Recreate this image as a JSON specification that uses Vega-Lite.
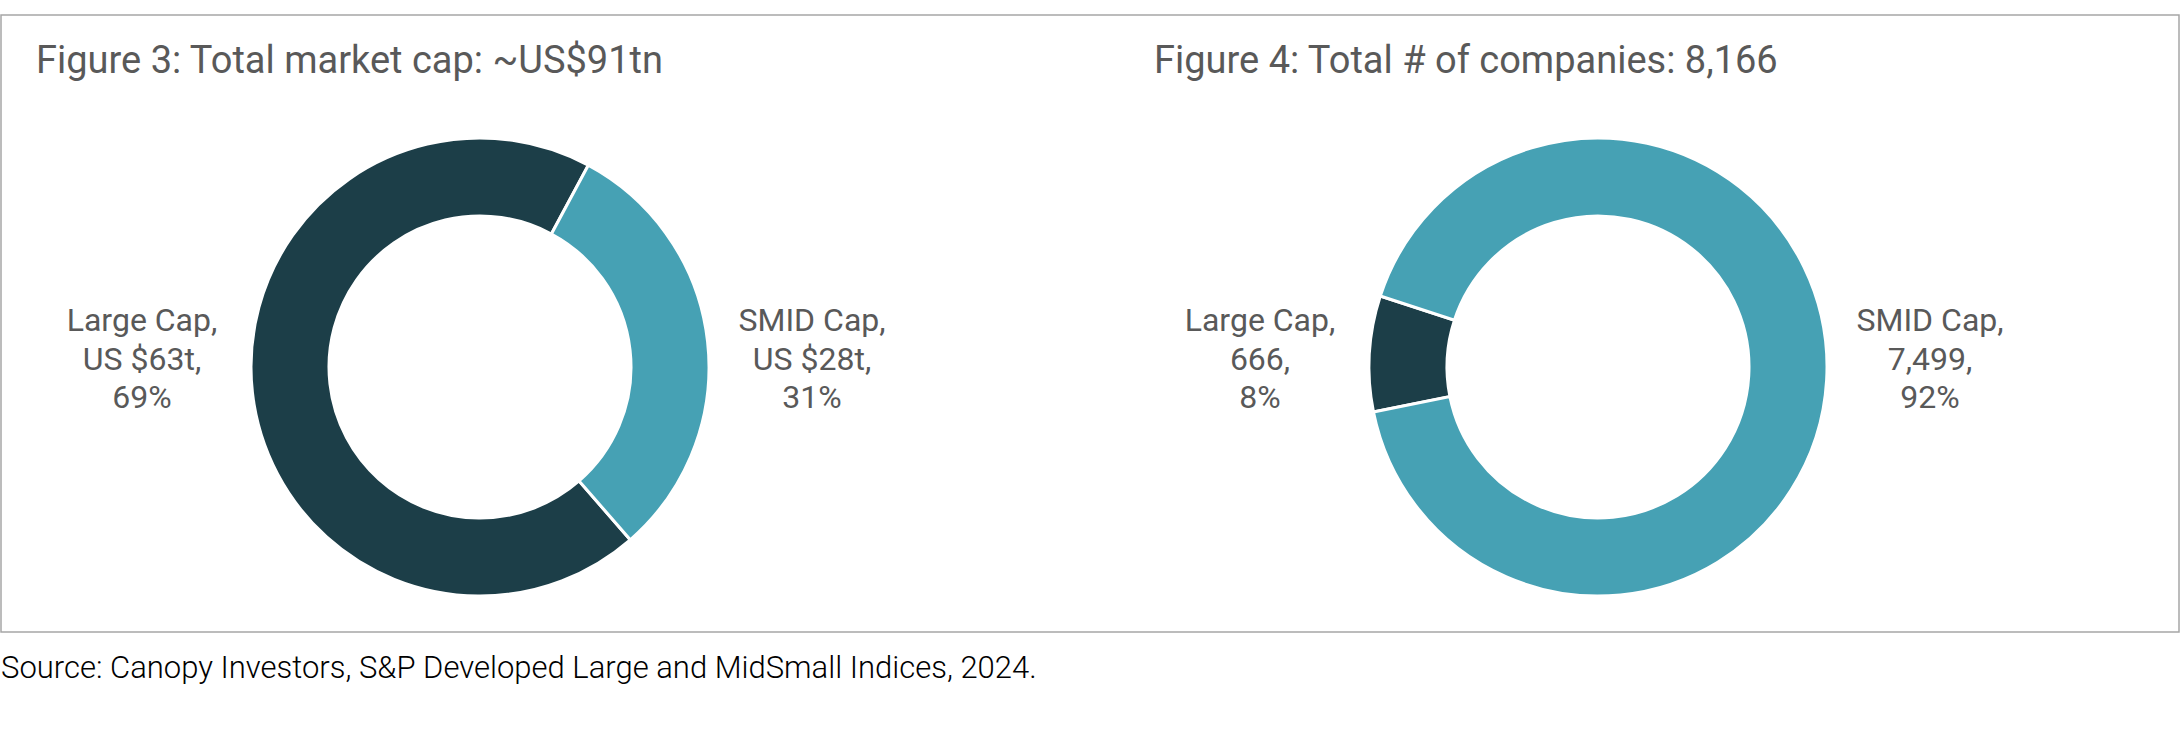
{
  "$schema": "https://vega.github.io/schema/vega-lite/v6.json",
  "width": 2178,
  "height": 617,
  "autosize": {"type": "none"},
  "padding": {"left": 1, "top": 15, "right": 1, "bottom": 111},
  "background": "white",
  "config": {
    "view": {"stroke": "#a6a6a6", "strokeWidth": 1.5},
    "font": "Roboto"
  },
  "title": {
    "text": "Source: Canopy Investors, S&P Developed Large and MidSmall Indices, 2024.",
    "orient": "bottom",
    "anchor": "start",
    "frame": "group",
    "fontSize": 31,
    "fontWeight": 300,
    "font": "Roboto",
    "color": "#000000",
    "baseline": "top",
    "offset": 22
  },
  "datasets": {
    "slices": [
      {"figure": "Figure 3", "part": "chart", "category": "Large Cap", "value": 63, "label": "Large Cap,\nUS $63t,\n69%"},
      {"figure": "Figure 3", "part": "chart", "category": "SMID Cap", "value": 28, "label": "SMID Cap,\nUS $28t,\n31%"},
      {"figure": "Figure 4", "part": "chart", "category": "Large Cap", "value": 666, "label": "Large Cap,\n666,\n8%"},
      {"figure": "Figure 4", "part": "chart", "category": "SMID Cap", "value": 7499, "label": "SMID Cap,\n7,499,\n92%"}
    ],
    "titles": [
      {"figure": "Figure 3", "part": "title", "title": "Figure 3: Total market cap: ~US$91tn"},
      {"figure": "Figure 4", "part": "title", "title": "Figure 4: Total # of companies: 8,166"}
    ]
  },
  "resolve": {"scale": {"theta": "independent"}},
  "layer": [
    {
      "data": {"name": "titles"},
      "mark": {"type": "text", "align": "left", "baseline": "alphabetic", "dx": -444, "fontSize": 38, "color": "#595959", "font": "Roboto"},
      "encoding": {
        "x": {"field": "figure", "type": "nominal", "axis": null, "scale": {"type": "point", "padding": 0, "domain": ["Figure 3", "Figure 4"], "range": [479, 1597]}},
        "y": {"field": "part", "type": "nominal", "axis": null, "scale": {"type": "point", "padding": 0, "domain": ["title", "chart"], "range": [58, 352]}},
        "text": {"field": "title"}
      }
    },
    {
      "data": {"name": "slices"},
      "transform": [{"filter": "datum.figure === 'Figure 3'"}],
      "mark": {"type": "arc", "outerRadius": 229, "innerRadius": 151, "stroke": "white", "strokeWidth": 3},
      "encoding": {
        "x": {"field": "figure", "type": "nominal", "axis": null},
        "y": {"field": "part", "type": "nominal", "axis": null},
        "theta": {"field": "value", "type": "quantitative", "stack": true, "scale": {"range": [2.426, 8.709]}},
        "color": {"field": "category", "type": "nominal", "legend": null, "scale": {"domain": ["Large Cap", "SMID Cap"], "range": ["#1c3e48", "#46a1b4"]}},
        "order": {"field": "category", "sort": "ascending"}
      }
    },
    {
      "data": {"name": "slices"},
      "transform": [{"filter": "datum.figure === 'Figure 4'"}],
      "mark": {"type": "arc", "outerRadius": 229, "innerRadius": 151, "stroke": "white", "strokeWidth": 3},
      "encoding": {
        "x": {"field": "figure", "type": "nominal", "axis": null},
        "y": {"field": "part", "type": "nominal", "axis": null},
        "theta": {"field": "value", "type": "quantitative", "stack": true, "scale": {"range": [4.515, 10.798]}},
        "color": {"field": "category", "type": "nominal", "legend": null},
        "order": {"field": "category", "sort": "ascending"}
      }
    },
    {
      "data": {"name": "slices"},
      "mark": {"type": "text", "align": "center", "baseline": "middle", "dy": -46, "fontSize": 32, "lineHeight": 38.5, "lineBreak": "\n", "color": "#595959", "font": "Roboto"},
      "encoding": {
        "x": {"field": "figure", "type": "nominal", "axis": null},
        "xOffset": {"field": "category", "type": "nominal", "scale": {"type": "point", "padding": 0, "domain": ["Large Cap", "SMID Cap"], "range": [-338, 332]}},
        "y": {"field": "part", "type": "nominal", "axis": null},
        "text": {"field": "label"}
      }
    }
  ]
}
